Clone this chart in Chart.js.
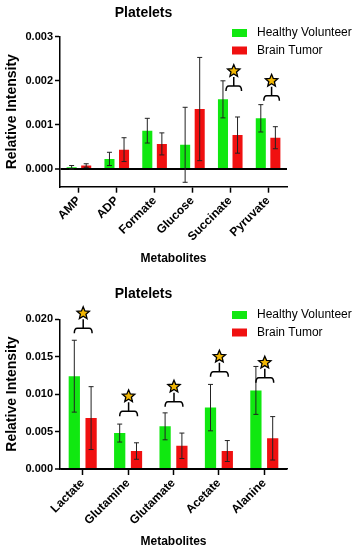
<!DOCTYPE html>
<html lang="en">
<head>
    <meta charset="UTF-8">
    <title>Platelets</title>
    <script src="https://cdn.jsdelivr.net/npm/chart.js"></script>
    <style>
        body {
            margin: 0;
            background: #fff;
        }

        .chart-box {
            width: 356px;
            height: 275px;
        }
    </style>
</head>
<body>
    <div class="chart-box"><canvas id="topChart" width="356" height="275"></canvas></div>
    <div class="chart-box"><canvas id="bottomChart" width="356" height="275"></canvas></div>

    <script>
        // groups
        const groupLabels = ['Healthy Volunteer', 'Brain Tumor'];
        const groupColors = ['#10e810', '#f01010'];

        // top panel
        const topCategories = ['AMP', 'ADP', 'Formate', 'Glucose', 'Succinate', 'Pyruvate'];
        const topHealthy = [0.00004, 0.00023, 0.00087, 0.00055, 0.00158, 0.00115];
        const topHealthySd = [0.00004, 0.00015, 0.00028, 0.00085, 0.00042, 0.00031];
        const topTumor = [0.00008, 0.00044, 0.00057, 0.00136, 0.00077, 0.00071];
        const topTumorSd = [0.00004, 0.00027, 0.00025, 0.00117, 0.00041, 0.00025];
        const topYTicks = [0, 0.001, 0.002, 0.003];
        const topSignificant = [4, 5];
        const topBracketLevel = [0.00188, 0.00166];

        // bottom panel
        const bottomCategories = ['Lactate', 'Glutamine', 'Glutamate', 'Acetate', 'Alanine'];
        const bottomHealthy = [0.0124, 0.0048, 0.0057, 0.0082, 0.0105];
        const bottomHealthySd = [0.0048, 0.0012, 0.0018, 0.0031, 0.0032];
        const bottomTumor = [0.0068, 0.0024, 0.0031, 0.0024, 0.0041];
        const bottomTumorSd = [0.0042, 0.0011, 0.0017, 0.0014, 0.0029];
        const bottomYTicks = [0, 0.005, 0.010, 0.015, 0.020];
        const bottomSignificant = [0, 1, 2, 3, 4];
        const bottomBracketLevel = [0.0188, 0.0077, 0.0090, 0.0130, 0.0122];

        Chart.defaults.font.family = '"Liberation Sans", Arial, sans-serif';
        Chart.defaults.color = '#000';

        // error bars on top of each bar
        const errorBars = {
            id: 'errorBars',
            afterDatasetsDraw(chart) {
                const ctx = chart.ctx;
                const y = chart.scales.y;
                ctx.save();
                ctx.strokeStyle = '#222';
                ctx.lineWidth = 1;
                chart.data.datasets.forEach((ds, d) => {
                    chart.getDatasetMeta(d).data.forEach((bar, i) => {
                        const hi = y.getPixelForValue(ds.data[i] + ds.errors[i]);
                        const lo = y.getPixelForValue(ds.data[i] - ds.errors[i]);
                        ctx.beginPath();
                        ctx.moveTo(bar.x, hi);
                        ctx.lineTo(bar.x, lo);
                        ctx.moveTo(bar.x - 2.5, hi);
                        ctx.lineTo(bar.x + 2.5, hi);
                        ctx.moveTo(bar.x - 2.5, lo);
                        ctx.lineTo(bar.x + 2.5, lo);
                        ctx.stroke();
                    });
                });
                ctx.restore();
            }
        };

        function drawStar(ctx, cx, cy, r) {
            ctx.beginPath();
            for (let k = 0; k < 10; k++) {
                const rad = k % 2 === 0 ? r : r * 0.45;
                const a = -Math.PI / 2 + k * Math.PI / 5;
                ctx.lineTo(cx + rad * Math.cos(a), cy + rad * Math.sin(a));
            }
            ctx.closePath();
            ctx.fillStyle = '#f2b705';
            ctx.fill();
            ctx.stroke();
        }

        // brackets + stars for significant pairs
        const sigMarks = {
            id: 'sigMarks',
            afterDraw(chart, args, opts) {
                const ctx = chart.ctx;
                const y = chart.scales.y;
                const g = chart.getDatasetMeta(0).data;
                const r = chart.getDatasetMeta(1).data;
                ctx.save();
                ctx.strokeStyle = '#000';
                ctx.lineWidth = 1.5;
                opts.indices.forEach((i, k) => {
                    const x1 = g[i].x + opts.shift;
                    const x2 = r[i].x + opts.shift + 1;
                    const xm = (x1 + x2) / 2;
                    const yy = y.getPixelForValue(opts.levels[k]);
                    ctx.beginPath();
                    ctx.moveTo(x1, yy + 5);
                    ctx.quadraticCurveTo(x1, yy, x1 + 3, yy);
                    ctx.lineTo(x2 - 3, yy);
                    ctx.quadraticCurveTo(x2, yy, x2, yy + 5);
                    ctx.moveTo(xm, yy);
                    ctx.lineTo(xm, yy - 9);
                    ctx.stroke();
                    ctx.lineWidth = 1.3;
                    drawStar(ctx, xm, yy - 15, 6.5);
                    ctx.lineWidth = 1.5;
                });
                ctx.restore();
            }
        };

        // legend at the top right
        const sideLegend = {
            id: 'sideLegend',
            afterDraw(chart, args, opts) {
                const ctx = chart.ctx;
                ctx.save();
                ctx.font = '12px "Liberation Sans", Arial, sans-serif';
                ctx.textBaseline = 'middle';
                chart.data.datasets.forEach((ds, d) => {
                    const cy = opts.top + d * 17.5;
                    ctx.fillStyle = ds.backgroundColor;
                    ctx.fillRect(232, cy - 4, 15, 8);
                    ctx.fillStyle = '#000';
                    ctx.fillText(ds.label, 257, cy);
                });
                ctx.restore();
            }
        };

        function makeChart(id, p) {
            const zeroOnly = c => (c.tick && c.tick.value === 0 ? '#000' : 'rgba(0,0,0,0)');
            return new Chart(document.getElementById(id), {
                type: 'bar',
                data: {
                    labels: p.labels,
                    datasets: [
                        { label: groupLabels[0], data: p.healthy, errors: p.healthySd, backgroundColor: groupColors[0] },
                        { label: groupLabels[1], data: p.tumor, errors: p.tumorSd, backgroundColor: groupColors[1] }
                    ]
                },
                options: {
                    responsive: false,
                    animation: false,
                    categoryPercentage: p.catPct,
                    barPercentage: p.barPct,
                    layout: { padding: { left: 0, right: 69, top: 0, bottom: 0 } },
                    scales: {
                        x: {
                            afterFit: s => { s.height = p.xHeight; },
                            border: { color: '#000', width: 1.5 },
                            grid: { drawOnChartArea: false, offset: false, color: '#000', tickColor: '#000', tickWidth: 1.5, tickLength: 6 },
                            ticks: { color: '#000', font: { size: 12, weight: 'bold' }, minRotation: 45, maxRotation: 45, autoSkip: false, padding: 1 },
                            title: { display: true, text: 'Metabolites', color: '#000', font: { size: 12, weight: 'bold' }, padding: { top: 0, bottom: p.xTitlePad } }
                        },
                        y: {
                            min: p.yMin,
                            max: p.yMax,
                            afterBuildTicks: s => { s.ticks = p.yTicks.map(v => ({ value: v })); },
                            afterFit: s => { s.width = 60; },
                            border: { color: '#000', width: 1.5 },
                            grid: { color: zeroOnly, lineWidth: c => (c.tick && c.tick.value === 0 ? 2 : 1), tickColor: '#000', tickWidth: 1.5, tickLength: 5 },
                            ticks: { color: '#000', font: { size: 11, weight: 'bold' }, padding: 2, callback: v => v.toFixed(3) },
                            title: { display: true, text: 'Relative Intensity', color: '#000', font: { size: 14, weight: 'bold' }, padding: { top: 4, bottom: 0 } }
                        }
                    },
                    plugins: {
                        legend: { display: false },
                        tooltip: { enabled: false },
                        title: { display: true, text: 'Platelets', color: '#000', font: { size: 14, weight: 'bold' }, padding: p.titlePad },
                        sigMarks: { indices: p.sig, levels: p.levels, shift: p.shift },
                        sideLegend: { top: p.legendTop }
                    }
                },
                plugins: [errorBars, sigMarks, sideLegend]
            });
        }

        makeChart('topChart', {
            labels: topCategories, healthy: topHealthy, healthySd: topHealthySd,
            tumor: topTumor, tumorSd: topTumorSd,
            yMin: -0.0004, yMax: 0.003, yTicks: topYTicks,
            sig: topSignificant, levels: topBracketLevel, shift: 3,
            catPct: 0.77, barPct: 0.69,
            xHeight: 88.3, xTitlePad: 9.6,
            titlePad: { top: 4.6, bottom: 15.3 }, legendTop: 33
        });

        makeChart('bottomChart', {
            labels: bottomCategories, healthy: bottomHealthy, healthySd: bottomHealthySd,
            tumor: bottomTumor, tumorSd: bottomTumorSd,
            yMin: 0, yMax: 0.02, yTicks: bottomYTicks,
            sig: bottomSignificant, levels: bottomBracketLevel, shift: 0,
            catPct: 0.74, barPct: 0.67,
            xHeight: 81, xTitlePad: 1.6,
            titlePad: { top: 10.6, bottom: 16.9 }, legendTop: 40
        });
    </script>
</body>
</html>
